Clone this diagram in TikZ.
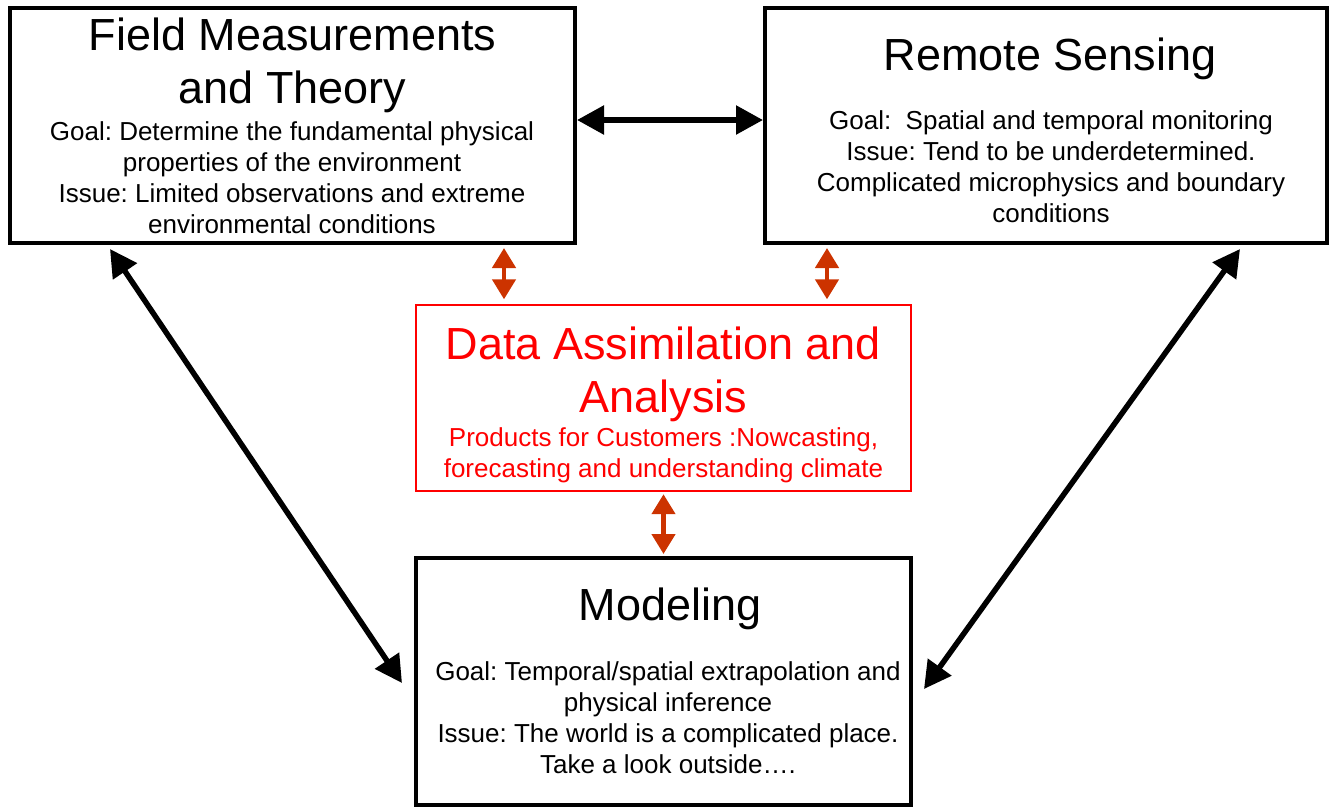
\documentclass[tikz,border=0pt]{standalone}
\usepackage{fontspec}
\setmainfont{Liberation Sans}
\usetikzlibrary{arrows.meta}
\definecolor{dared}{RGB}{255,0,0}
\definecolor{linkred}{RGB}{204,51,0}
\frenchspacing
\begin{document}
\begin{tikzpicture}[x=1pt,y=-1pt,
  box/.style={draw=black, line width=4pt, fill=white, inner sep=0pt},
  redbox/.style={draw=dared, line width=1.4pt, fill=white, inner sep=0pt},
  headline/.style={anchor=base, align=center, inner sep=0pt, font=\fontsize{45}{53}\selectfont},
  bodytext/.style={anchor=base, align=center, inner sep=0pt, font=\fontsize{26}{30.8}\selectfont},
  blk/.style={draw=black, line width=5.5pt, {Triangle[length=27pt,width=28pt]}-{Triangle[length=27pt,width=28pt]}},
  rlink/.style={draw=linkred, line width=4.5pt, {Triangle[length=20pt,width=23pt]}-{Triangle[length=20pt,width=23pt]}}
]
\useasboundingbox (0,0) rectangle (1332,807);

% boxes
\node[box, minimum width=565pt, minimum height=235pt] (field) at (292.5,125.5) {};
\node[box, minimum width=562pt, minimum height=235pt] (remote) at (1046,125.5) {};
\node[redbox, minimum width=495pt, minimum height=186pt] (data) at (663.5,398) {};
\node[box, minimum width=495pt, minimum height=247pt] (model) at (663.5,681.5) {};

% text blocks, placed by the baseline of their last line
\node[headline] (fieldtitle) at (292.5,103) {Field Measurements\\and Theory};
\node[bodytext] (fieldbody) at (292,233) {Goal: Determine the fundamental physical\\properties of the environment\\Issue: Limited observations and extreme\\environmental conditions};

\node[headline] (remotetitle) at (1050,70) {Remote Sensing};
\node[bodytext] (remotebody) at (1051,222) {Goal:~ Spatial and temporal monitoring\\Issue: Tend to be underdetermined.\\Complicated microphysics and boundary\\conditions};

\node[headline, text=dared] (datatitle) at (663.5,412) {Data Assimilation and\\Analysis};
\node[bodytext, text=dared] (databody) at (663.5,477) {Products for Customers :Nowcasting,\\forecasting and understanding climate};

\node[headline] (modeltitle) at (670,620) {Modeling};
\node[bodytext] (modelbody) at (668,773) {Goal: Temporal/spatial extrapolation and\\physical inference\\Issue: The world is a complicated place.\\Take a look outside….};

% black links
\draw[blk] ([shift={(0pt,5.5pt)}]field.east) -- ([shift={(0pt,5.5pt)}]remote.west);
\draw[blk] ([shift={(102pt,-4pt)}]field.south west) -- ([shift={(-12pt,-1.5pt)}]model.west);
\draw[blk] ([shift={(-89pt,-4pt)}]remote.south east) -- ([shift={(11pt,-7.5pt)}]model.east);

% red links
\draw[rlink] ([shift={(211.5pt,-3pt)}]field.south) -- ([shift={(-159.5pt,5pt)}]data.north);
\draw[rlink] ([shift={(-219pt,-3pt)}]remote.south) -- ([shift={(163.5pt,5pt)}]data.north);
\draw[rlink] ([yshift=-2.5pt]data.south) -- ([yshift=2pt]model.north);
\end{tikzpicture}
\end{document}
